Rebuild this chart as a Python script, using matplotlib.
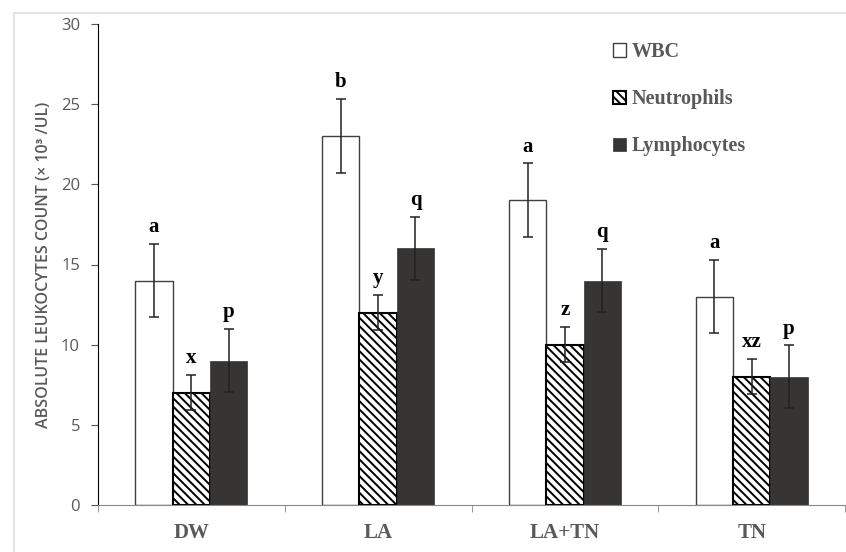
import numpy as np
import matplotlib.pyplot as plt
from matplotlib.patches import Rectangle

# data
groups = ['DW', 'LA', 'LA+TN', 'TN']
series = ['WBC', 'Neutrophils', 'Lymphocytes']
wbc = [14, 23, 19, 13]
wbc_err = [2.3, 2.3, 2.3, 2.3]
neut = [7, 12, 10, 8]
neut_err = [1.1, 1.1, 1.1, 1.1]
lymph = [9, 16, 14, 8]
lymph_err = [1.95, 1.95, 1.95, 1.95]
wbc_letters = ['a', 'b', 'a', 'a']
neut_letters = ['x', 'y', 'z', 'xz']
lymph_letters = ['p', 'q', 'q', 'p']

plt.rcParams['hatch.linewidth'] = 1.4

fig = plt.figure(figsize=(8.46, 5.52), dpi=100)
ax = fig.add_axes([98/846, 47/552, 747/846, 481/552])

# light frame of the original screenshot
fig.patches.append(Rectangle((14/846, -0.1), 1.2, 1.1 - 13/552, transform=fig.transFigure,
                             fill=False, edgecolor='#e3e3e3', lw=1.5))

x = np.arange(len(groups))
w = 0.2
gray = '#595959'
serif = 'Liberation Serif'

ebar = dict(ecolor='#222222', elinewidth=1.1, capsize=3.6, capthick=1.1)
ax.bar(x - w, wbc, w, yerr=wbc_err, color='white', edgecolor='#404040', lw=1.0,
       label=series[0], error_kw=ebar)
ax.bar(x, neut, w, yerr=neut_err, color='white', edgecolor='black', lw=1.5,
       hatch='\\\\\\\\', label=series[1], error_kw=ebar)
ax.bar(x + w, lymph, w, yerr=lymph_err, color='#363534', edgecolor='#363534', lw=0.5,
       label=series[2], error_kw=ebar)

# significance letters above the error bars
for off, vals, errs, labs in [(-w, wbc, wbc_err, wbc_letters),
                              (0, neut, neut_err, neut_letters),
                              (w, lymph, lymph_err, lymph_letters)]:
    for i in range(len(groups)):
        ax.annotate(labs[i], (x[i] + off, vals[i] + errs[i]), xytext=(0, 5),
                    textcoords='offset points', ha='center', va='bottom',
                    fontsize=15, fontweight='bold', family=serif, color='black')

ax.set_xlim(-0.5, len(groups) - 0.5)
ax.set_ylim(0, 30)
ax.set_yticks(range(0, 31, 5))
ax.set_xticks(x)
ax.set_xticklabels(groups, fontsize=15, fontweight='bold', family=serif, color=gray)
ax.set_xticks(np.arange(-0.5, len(groups)), minor=True)
ax.tick_params(axis='x', which='major', length=0, pad=13)
ax.tick_params(axis='x', which='minor', length=5, color='#888888')
ax.tick_params(axis='y', length=5, labelsize=12, labelcolor=gray, color='#555555', pad=8)
for lab in ax.get_yticklabels():
    lab.set_family('Open Sans')

ax.spines['top'].set_visible(False)
ax.spines['right'].set_visible(False)
ax.spines['bottom'].set_color('#888888')
ax.spines['left'].set_color('black')

ax.set_ylabel('ABSOLUTE LEUKOCYTES COUNT (× 10³ /UL)', fontsize=11.5, color=gray,
              family='Open Sans', fontweight='semibold', labelpad=6)

leg = ax.legend(loc='upper left', bbox_to_anchor=(0.665, 1.0), frameon=False,
                handlelength=0.65, handleheight=0.65, handletextpad=0.3, labelspacing=1.35,
                prop={'family': serif, 'weight': 'bold', 'size': 14.5})
for t in leg.get_texts():
    t.set_color(gray)

fig.savefig('out.png', dpi=100)
